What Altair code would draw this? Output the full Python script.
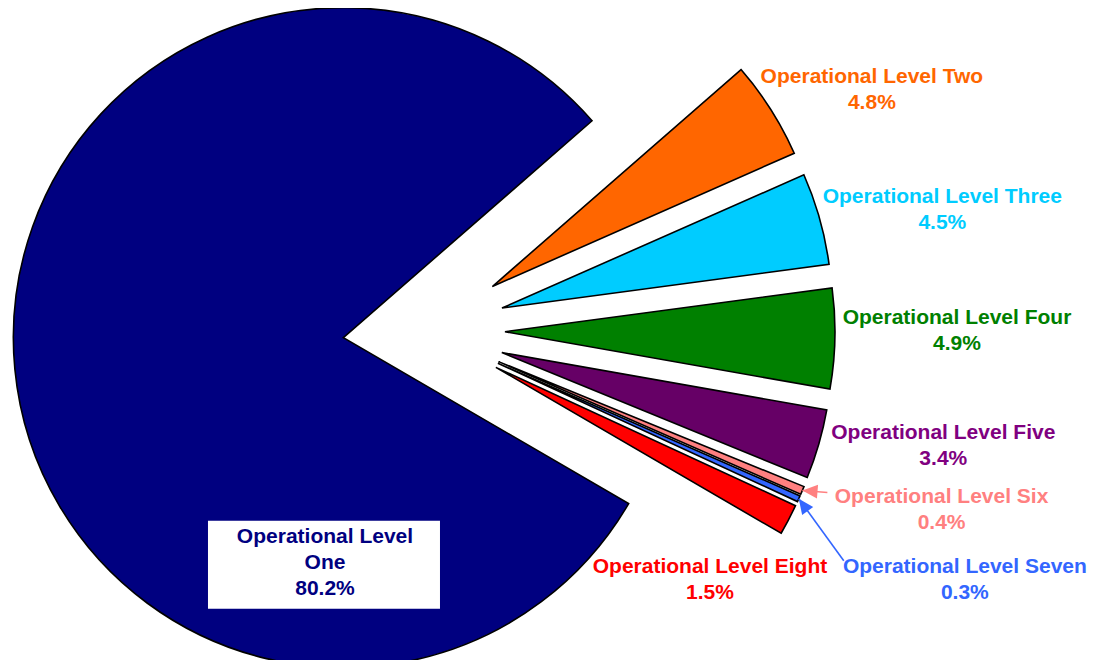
import math
import altair as alt
import pandas as pd

# ---------------- data ----------------
categories = [
    "Operational Level One",
    "Operational Level Two",
    "Operational Level Three",
    "Operational Level Four",
    "Operational Level Five",
    "Operational Level Six",
    "Operational Level Seven",
    "Operational Level Eight",
]
shares = [80.2, 4.8, 4.5, 4.9, 3.4, 0.4, 0.3, 1.5]
label_names = [
    "Operational Level\nOne",
    "Operational Level Two",
    "Operational Level Three",
    "Operational Level Four",
    "Operational Level Five",
    "Operational Level Six",
    "Operational Level Seven",
    "Operational Level Eight",
]

# ---------------- style / layout ----------------
colors = ["#000080", "#FF6600", "#00CCFF", "#008000", "#660066",
          "#FF8080", "#3366FF", "#FF0000"]
label_colors = ["#000080", "#FF6600", "#00CCFF", "#008000", "#800080",
                "#FF8080", "#3366FF", "#FF0000"]
START_DEG = 120.18          # first slice angle (clockwise from 12 o'clock)
CX, CY = 416, 322           # pie centre inside the view
EXPLODE = 81                # explosion distance of every slice
R = 330                     # pie radius
LINE_H = 26
label_radius = [253, 508, 532, 533, 532, 548, 596, 380]
label_shift_deg = [-61.5, 4.3, 2.7, -1.1, -3.6, -3.8, 0.6, 13.7]
arrow_dx = [None, None, None, None, None, 25, 45, None]
arrow_dy = [None, None, None, None, None, 2, 62, None]
FONT = "Liberation Sans"

TOTAL = sum(shares)
labels_text = [f"{n}\n{s:.1f}%" for n, s in zip(label_names, shares)]
df = pd.DataFrame({
    "order": list(range(len(categories))),
    "cat": categories,
    "share": shares,
    "label": labels_text,
    "nl": [t.count("\n") for t in labels_text],
    "lr": label_radius,
    "ls": label_shift_deg,
    "adx": arrow_dx,
    "ady": arrow_dy,
})

S0 = math.radians(START_DEG)

base = alt.Chart(df).transform_window(
    cum="sum(share)",
    sort=[alt.SortField("order", order="ascending")],
    frame=[None, 0],
).transform_calculate(
    a0=f"{S0} + 2*PI*(datum.cum - datum.share)/{TOTAL}",
    a1=f"{S0} + 2*PI*datum.cum/{TOTAL}",
).transform_calculate(
    mid="(datum.a0 + datum.a1)/2",
).transform_calculate(
    cx=f"{CX} + {EXPLODE}*sin(datum.mid)",
    cy=f"{CY} - {EXPLODE}*cos(datum.mid)",
    lx=f"{CX} + datum.lr*sin(datum.mid + datum.ls*PI/180)",
    ly=f"{CY} - datum.lr*cos(datum.mid + datum.ls*PI/180)",
).transform_calculate(
    tipx=f"datum.cx + {R}*sin(datum.mid)",
    tipy=f"datum.cy - {R}*cos(datum.mid)",
    lyt=f"datum.ly - datum.nl*{LINE_H}/2",
    bx0="datum.lx - 117",
    bx1="datum.lx + 115",
    by0="datum.ly - 42",
    by1="datum.ly + 46",
)

color_scale = alt.Scale(domain=categories, range=colors)
label_scale = alt.Scale(domain=categories, range=label_colors)

arcs = base.mark_arc(outerRadius=R, stroke="black", strokeWidth=1.6).encode(
    theta=alt.Theta("a0:Q", scale=None),
    theta2="a1:Q",
    x=alt.X("cx:Q", scale=None),
    y=alt.Y("cy:Q", scale=None),
    color=alt.Color("cat:N", scale=color_scale, legend=None),
)

box = base.transform_filter("datum.order == 0").mark_rect(color="white").encode(
    x=alt.X("bx0:Q", scale=None),
    x2="bx1:Q",
    y=alt.Y("by0:Q", scale=None),
    y2="by1:Q",
)

labels = base.mark_text(
    font=FONT, fontSize=21, fontWeight="bold", lineBreak="\n",
    lineHeight=LINE_H, align="center", baseline="middle",
).encode(
    x=alt.X("lx:Q", scale=None),
    y=alt.Y("lyt:Q", scale=None),
    text="label:N",
    fill=alt.Fill("cat:N", scale=label_scale, legend=None),
)

arrow_base = base.transform_filter("isValid(datum.adx)").transform_calculate(
    tx="datum.tipx + datum.adx",
    ty="datum.tipy + datum.ady",
    ang="(atan2(-datum.adx, datum.ady)*180/PI + 360) % 360",
)

leaders = arrow_base.mark_rule(strokeWidth=1.6).encode(
    x=alt.X("tx:Q", scale=None),
    y=alt.Y("ty:Q", scale=None),
    x2="tipx:Q",
    y2="tipy:Q",
    color=alt.Color("cat:N", scale=color_scale, legend=None),
)

heads = arrow_base.mark_point(
    shape="M0,0L-0.9,2L0.9,2Z", filled=True, size=230, opacity=1,
).encode(
    x=alt.X("tipx:Q", scale=None),
    y=alt.Y("tipy:Q", scale=None),
    angle=alt.Angle("ang:Q", scale=None),
    color=alt.Color("cat:N", scale=color_scale, legend=None),
)

chart = alt.layer(arcs, box, leaders, heads, labels).properties(
    width=1082, height=652, padding=0, background="white",
    autosize=alt.AutoSizeParams(type="none"),
).configure_view(stroke=None)

chart.save("out.html", embed_options={"renderer": "svg", "actions": False})
